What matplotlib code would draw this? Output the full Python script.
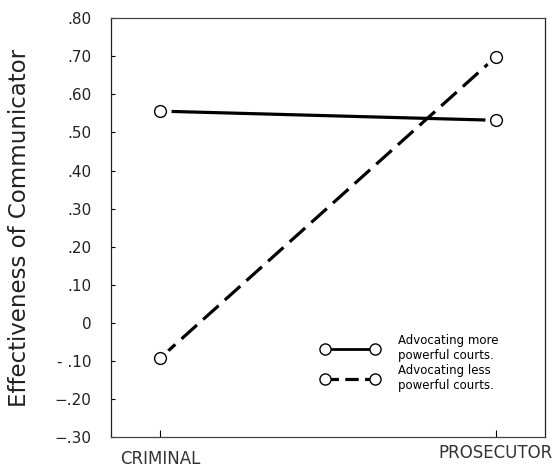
import matplotlib
matplotlib.use("Agg")
import matplotlib.pyplot as plt
from matplotlib.lines import Line2D

# data
conditions = ["CRIMINAL", "PROSECUTOR"]
more_powerful = [0.556, 0.532]
less_powerful = [-0.093, 0.698]
yticks = [0.8, 0.7, 0.6, 0.5, 0.4, 0.3, 0.2, 0.1, 0.0, -0.1, -0.2, -0.3]
ytick_labels = [".80", ".70", ".60", ".50", ".40", ".30", ".20", ".10", "0",
                "- .10", "\u2212.20", "\u2212.30"]
legend_labels = ["Advocating more\npowerful courts.",
                 "Advocating less\npowerful courts."]

plt.rcParams['font.family'] = ['DejaVu Sans']

fig = plt.figure(figsize=(5.57, 4.67), dpi=100)
ax = fig.add_axes([0.199, 0.064, 0.779, 0.897])

x = list(range(len(conditions)))
dash = (0, (6.5, 2.6))

ax.plot(x, more_powerful, color='black', lw=2.3, solid_capstyle='butt', zorder=2)
ax.plot(x, less_powerful, color='black', lw=2.3, linestyle=dash,
        dash_capstyle='butt', zorder=2)
# white halo so the lines stop short of the circles
for ys in (more_powerful, less_powerful):
    ax.plot(x, ys, linestyle='none', marker='o', ms=15, mfc='white',
            mec='white', zorder=3)
    ax.plot(x, ys, linestyle='none', marker='o', ms=8.5, mfc='white',
            mec='black', mew=1.0, zorder=4)

ax.set_xlim(-0.146, 1.146)
ax.set_ylim(-0.3, 0.8)

ax.set_yticks(yticks)
ax.set_yticklabels(ytick_labels, fontsize=11, color='#222')
ax.set_xticks(x)
ax.set_xticklabels([])
ax.tick_params(axis='y', direction='in', length=3, width=0.8, pad=14)
ax.tick_params(axis='x', direction='in', length=5, width=0.8)

for name, sp in ax.spines.items():
    sp.set_linewidth(0.9)
    sp.set_color('#222' if name in ('left', 'right') else '#444')

xt = ax.get_xaxis_transform()
ax.text(x[0], -0.052, conditions[0], transform=xt, ha='center', va='center',
        fontsize=12, color='#333')
ax.text(x[1], -0.038, conditions[1], transform=xt, ha='center', va='center',
        fontsize=12, color='#333')

ax.set_ylabel("Effectiveness of Communicator", fontsize=16.5, color='#222',
              labelpad=17)

handles = [
    Line2D([0], [0], color='black', lw=2.0, marker='o', ms=8, mfc='white',
           mec='black', mew=1.0),
    Line2D([0], [0], color='black', lw=2.3, linestyle=(0, (4.2, 2.0)),
           marker='o', ms=8, mfc='white', mec='black', mew=1.0),
]
ax.legend(handles, legend_labels, numpoints=2, frameon=False, fontsize=8.5,
          handlelength=4.84, handletextpad=1.7, labelspacing=0.2,
          loc='upper left', bbox_to_anchor=(0.46, 0.272))

fig.savefig("out.png", dpi=100)
